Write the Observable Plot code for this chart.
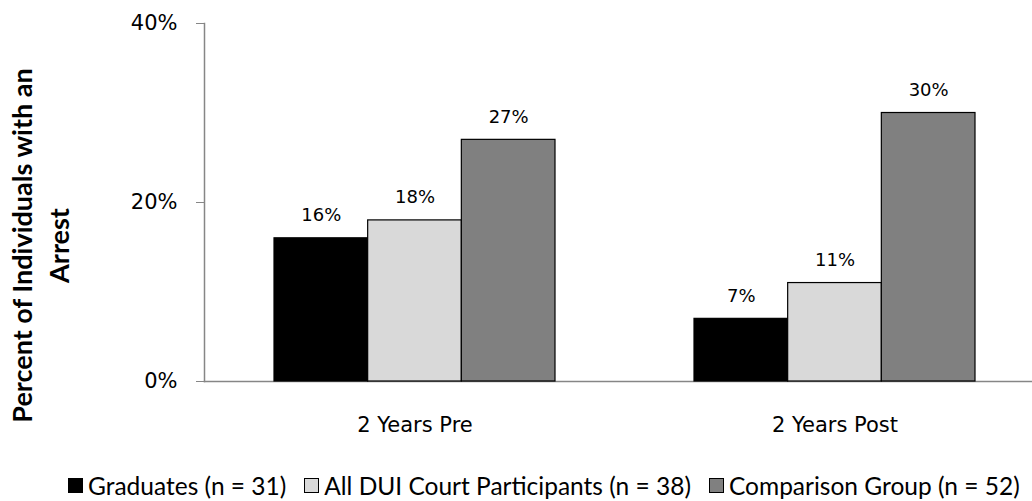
<!DOCTYPE html>
<html>
<head>
<meta charset="utf-8">
<script src="https://cdn.jsdelivr.net/npm/d3@7"></script>
<script src="https://cdn.jsdelivr.net/npm/@observablehq/plot@0.6"></script>
<style>
  html, body { margin: 0; padding: 0; background: #fff; overflow: hidden; }
  #chart svg { display: block; }
  .legend { display: flex; align-items: center; height: 40px; padding-top: 15px; padding-left: 68px; font-family: "Lato", sans-serif; font-size: 24.5px; color: #000; white-space: nowrap; }
  .legend .item { display: flex; align-items: center; margin-right: 18px; }
  .legend .sw { width: 15px; height: 15px; border: 1px solid #000; box-sizing: border-box; margin-right: 5px; }
</style>
</head>
<body>
<div id="chart"></div>
<script>
const categories = ["2 Years Pre", "2 Years Post"];
const series = ["Graduates (n = 31)", "All DUI Court Participants (n = 38)", "Comparison Group (n = 52)"];
const graduates = [16, 7];
const allParticipants = [18, 11];
const comparison = [27, 30];
const colors = ["#000000", "#d9d9d9", "#808080"];
const yTicks = [0, 20, 40];
const titleLines = ["Percent of Individuals with an\nArrest"];

const seriesValues = [graduates, allParticipants, comparison];
const data = [];
series.forEach((s, i) => categories.forEach((c, j) => data.push({series: s, category: c, value: seriesValues[i][j]})));

const groupWidth = 281;
const w = groupWidth / 3;

const plot = Plot.plot({
  width: 1032,
  height: 450,
  marginLeft: 204,
  marginRight: 0,
  marginTop: 23,
  marginBottom: 69,
  style: {fontFamily: "DejaVu Sans", fontSize: "20px", color: "#000", background: "#fff", overflow: "visible"},
  x: {domain: categories, range: [204, 1044], paddingInner: 0.331, paddingOuter: 0.1655, label: null},
  y: {domain: [0, 40], label: null},
  marks: [
    Plot.frame({anchor: "left", stroke: "#868686", strokeWidth: 1.5}),
    Plot.frame({anchor: "bottom", stroke: "#868686", strokeWidth: 1.5}),
    ...series.map((s, i) => Plot.barY(data.filter(d => d.series === s), {
      x: "category", y: "value", fill: colors[i], stroke: "#000", strokeWidth: 1.2,
      insetLeft: i * w, insetRight: (2 - i) * w
    })),
    ...series.map((s, i) => Plot.text(data.filter(d => d.series === s), {
      x: "category", y: "value", text: d => d.value + "%", dx: (i - 1) * w, dy: -23,
      fontSize: 18, fill: "#000"
    })),
    Plot.axisY({ticks: yTicks, tickFormat: d => d + "%", tickSize: 8, tickPadding: 19, stroke: "#868686", fontSize: 21, fill: "#000"}),
    Plot.axisX({tickSize: 0, tickPadding: 36, fontSize: 21, fill: "#000"}),
    Plot.text(titleLines, {
      frameAnchor: "left", rotate: -90, dx: -166, dy: 43, fontWeight: "bold", fontSize: 27,
      fontFamily: "Lato", lineHeight: 1.4, textAnchor: "middle", fill: "#000"
    })
  ]
});
document.getElementById("chart").appendChild(plot);

const legend = d3.select("body").append("div").attr("class", "legend");
series.forEach((s, i) => {
  const it = legend.append("div").attr("class", "item");
  it.append("div").attr("class", "sw").style("background", colors[i]);
  it.append("span").text(s);
});
</script>
</body>
</html>
